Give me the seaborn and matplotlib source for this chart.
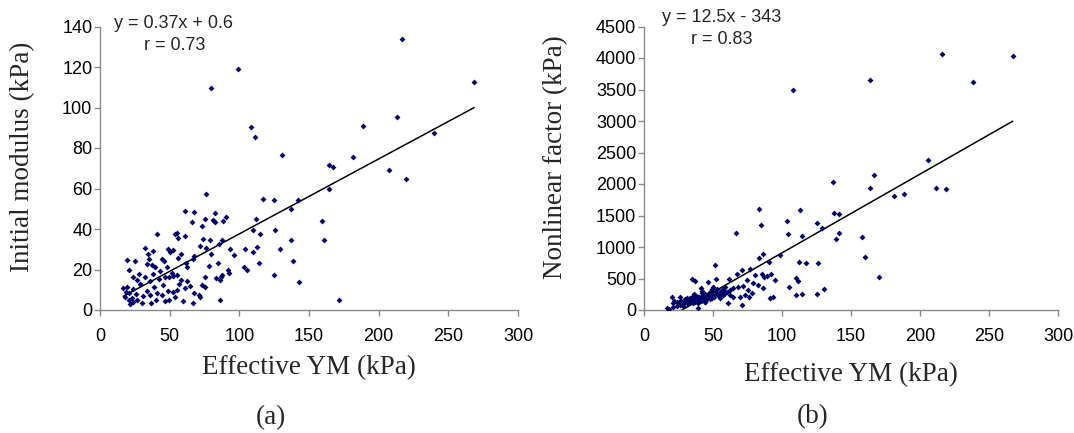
import matplotlib
matplotlib.use("Agg")
import matplotlib.pyplot as plt
import seaborn as sns

# ---------------- data ----------------
# Panel (a): Effective YM (kPa) vs Initial modulus (kPa)
ym_a = [217, 268.5, 108.4, 111.5, 213, 189, 130.4, 164.6, 167.5, 181.9, 207.2, 219.4, 240,
        164.6, 117.3, 125.2, 142.4, 137.1, 112, 109.6, 114.9, 125.9, 159.1, 161, 136.9, 104.3,
        112.9, 110.1, 129, 103.4, 105.8, 114.1, 138.8, 125.2, 142.6, 171.3,
        79.7, 99.3,
        75.9, 60.8, 67.3, 82.8, 90.5, 66, 75.2, 80.9, 82.3, 88.5, 73.2, 53.6, 55.5, 56, 60.8,
        73.7, 79, 87.4, 85.2, 71.8, 76.1, 93.3, 96.4, 52.6, 58.4, 56, 67.5, 66.5, 79.5, 61.7,
        62.2, 78.5, 84.9, 91.9, 92.4, 75.4, 83.1, 86.6, 87.4, 86.1, 73.2, 75.6, 51.5, 52.6, 55,
        58.4, 62.2, 56.9, 61.2, 64.6, 55, 52.2, 53.8, 67.5, 70.8, 71.8, 59.8, 66.5, 86.1,
        40.7, 32.5, 38.3, 34.5, 49, 50.3, 19.6, 25.3, 35.4, 44.5, 45.9, 33.5, 37.3, 39.7, 21,
        47.9, 27.8, 38.3, 43.1, 23.5, 32.1, 42.1, 46.4, 26.3, 35.9, 49.7, 28.7, 38.8, 45.4,
        16.7, 19.2, 23.9, 33.5, 48.8, 18.7, 21, 25.8, 35.9, 41.1, 44.5, 18.2, 23, 30.6, 20.6,
        23.9, 30.2, 36.4, 40.2, 46.9, 21.5, 26.3, 49.7]
init_mod = [133.6, 112.6, 90.2, 85.3, 95.1, 90.7, 76.7, 71.8, 70.5, 75.4, 69.2, 64.8, 87.4,
            59.8, 54.9, 54.4, 54.1, 49.7, 45.1, 39.4, 37.4, 39.4, 44.1, 34.8, 34.8, 30.3,
            31.1, 28.4, 30.3, 21.3, 19.8, 23.1, 24.1, 17.4, 13.9, 4.9,
            109.5, 118.9,
            57.1, 49, 48.2, 47.9, 45.9, 43.3, 44.9, 44.3, 43.3, 44.1, 41.7, 37.7, 38, 35.6, 36.7,
            35.1, 34.4, 34.8, 32.8, 31.8, 30.8, 30.2, 27.2, 29.5, 27.9, 25.7, 26.9, 25.2, 27.5,
            23.3, 21.3, 21.6, 23, 19.7, 18.3, 16.4, 15.7, 16.1, 17.2, 14.8, 12.3, 11.5, 18.3,
            16.7, 17.2, 14.8, 14.4, 12.8, 11, 12, 9.8, 9, 6.5, 8.2, 7.4, 6.5, 4.4, 3.6, 4.9,
            37.7, 30.8, 29.2, 27.5, 30.3, 28.7, 24.9, 24.3, 25.2, 25.2, 24.3, 22.6, 22, 21, 20,
            21.3, 18, 18, 19.3, 16.1, 16.1, 15.1, 16.4, 14.8, 14.4, 16.1, 12.8, 11.5, 12.1,
            10.7, 11.2, 10.2, 9.5, 9.5, 9, 8.5, 7.9, 7.4, 8.2, 7.2, 6.5, 5.9, 6.9, 4.9,
            4.1, 3.6, 3.3, 4.9, 4.6, 3, 4.9, 4.9]

# Panel (b): Effective YM (kPa) vs Nonlinear factor (kPa)
ym_b = [215.7, 267.2, 238.2, 163.8, 107.7, 206, 166.9, 163.8, 136.7, 211.6, 218.6, 181.2, 188.2,
        112.8, 103.9, 137.5, 141.5, 125.1, 129.2, 104.6, 114.5, 141.5, 138.9, 158, 159.9,
        170.5, 98.6, 112.1, 117.4, 125.9, 109.9, 111.8, 105.3, 130.2, 109.9, 114.7, 125.1,
        83.3, 84.5, 66.7, 86.5, 83.6, 90.8, 51.2, 76.8, 71.2, 67.2, 80.4, 85.3, 87, 88.9, 92,
        95.1, 61.8, 52.2, 74.9, 79.2, 82.8, 86.5, 71.5, 68.1, 64.7, 58.7, 75.6, 78, 73.2, 76.3,
        91.3, 93.7, 62.3, 64.7, 69.6, 61.1, 71.2, 50.2,
        35, 37, 46.6, 41.1, 20, 16.4, 18.3, 21.2, 23.7, 26.1, 30.9, 33.3, 37, 39.3, 41.8, 45.4,
        47.8, 39.3, 21.2, 28.5, 35.7, 44.2, 49.1, 32.1,
        25, 27, 29, 30, 31, 33, 34, 35, 36, 38, 39, 40, 42, 43, 44, 46, 47, 48, 50, 51, 52, 53,
        54, 55, 56, 57, 58, 59, 45, 41, 37, 32, 28, 24, 22, 26, 49, 53, 57, 60, 62, 42, 36, 48,
        55, 44, 39]
nonlin = [4068, 4036, 3624, 3651, 3492, 2376, 2143, 1942, 2032, 1942, 1915, 1810, 1841,
          1582, 1418, 1540, 1519, 1376, 1297, 1201, 1175, 1217, 1132, 1164, 841,
          524, 873, 767, 751, 751, 513, 466, 365, 333, 238, 259, 249,
          1598, 1354, 1227, 889, 820, 767, 714, 646, 635, 566, 555, 566, 519, 540, 571,
          476, 497, 487, 476, 424, 397, 344, 381, 360, 344, 370, 317, 265, 238, 211,
          185, 211, 238, 211, 211, 116, 79, 370,
          487, 466, 450, 344, 201, 37, 11, 106, 132, 79, 185, 159, 222, 201, 265, 238,
          291, 26, 53, 63, 106, 132, 185, 116,
          120, 150, 110, 170, 140, 190, 160, 210, 180, 230, 170, 200, 220, 190, 250, 210, 260,
          230, 240, 200, 280, 250, 220, 270, 300, 240, 260, 290, 160, 150, 130, 100, 90, 70,
          150, 200, 330, 330, 330, 280, 320, 300, 250, 180, 190, 120, 110]

# regression lines (from the equations printed on the chart)
slope_a, icpt_a, r_a = 0.37, 0.6, 0.73
slope_b, icpt_b, r_b = 12.5, -343, 0.83

x_ticks = [0, 50, 100, 150, 200, 250, 300]
y_ticks_a = [0, 20, 40, 60, 80, 100, 120, 140]
y_ticks_b = [0, 500, 1000, 1500, 2000, 2500, 3000, 3500, 4000, 4500]

# ---------------- style ----------------
sns.set_style("ticks")
plt.rcParams["font.family"] = ["Liberation Sans", "DejaVu Sans"]

NAVY = "#000066"
AXIS_GRAY = "#8a8a8a"
SERIF = ["Liberation Serif", "DejaVu Serif"]

W, H = 1074, 433
fig = plt.figure(figsize=(W / 100, H / 100), dpi=100)
ax1 = fig.add_axes([100 / W, 1 - 310 / H, 418 / W, 283.5 / H])
ax2 = fig.add_axes([644 / W, 1 - 310 / H, 414 / W, 283.5 / H])


def draw(ax, xs, ys, slope, icpt, ymax, yticks, ylabel, xlab_y, ylab_x):
    sns.scatterplot(x=xs, y=ys, ax=ax, marker="D", s=9, color=NAVY, linewidth=0, zorder=3)
    lx = [min(xs), max(xs)]
    ly = [slope * v + icpt for v in lx]
    sns.lineplot(x=lx, y=ly, ax=ax, color="black", linewidth=1.1, zorder=2)
    ax.set_xlim(0, 300)
    ax.set_ylim(0, ymax)
    ax.set_xticks(x_ticks)
    ax.set_yticks(yticks)
    sns.despine(ax=ax)
    for s in ("left", "bottom"):
        ax.spines[s].set_color(AXIS_GRAY)
        ax.spines[s].set_linewidth(1.0)
    ax.tick_params(axis="both", direction="out", length=4, width=1, color=AXIS_GRAY,
                   labelsize=13, labelcolor="black")
    ax.tick_params(axis="x", pad=9)
    ax.tick_params(axis="y", pad=1.5)
    ax.set_xlabel("Effective YM (kPa)", fontfamily=SERIF, fontsize=19.5, va="center")
    ax.xaxis.set_label_coords(0.5, xlab_y)
    ax.set_ylabel(ylabel, fontfamily=SERIF, fontsize=19.5, va="center", ha="center")
    ax.yaxis.set_label_coords(ylab_x, 0.54)


draw(ax1, ym_a, init_mod, slope_a, icpt_a, 140, y_ticks_a, "Initial modulus (kPa)",
     -(368 - 310) / 283.5, -77.4 / 418)
draw(ax2, ym_b, nonlin, slope_b, icpt_b, 4500, y_ticks_b, "Nonlinear factor (kPa)",
     -(375 - 310) / 283.5, -88 / 414)

# equation annotations
fig.text(174 / W, 1 - 23 / H, f"y = {slope_a}x + {icpt_a}", ha="center", va="center", fontsize=13)
fig.text(174.5 / W, 1 - 46 / H, f"r = {r_a}", ha="center", va="center", fontsize=13)
fig.text(722 / W, 1 - 17 / H, f"y = {slope_b}x - {abs(icpt_b)}", ha="center", va="center", fontsize=13)
fig.text(721.5 / W, 1 - 40 / H, f"r = {r_b}", ha="center", va="center", fontsize=13)

# panel captions
fig.text(271 / W, 1 - 418 / H, "(a)", ha="center", va="center", fontsize=19.5, fontfamily=SERIF)
fig.text(813 / W, 1 - 417 / H, "(b)", ha="center", va="center", fontsize=19.5, fontfamily=SERIF)

fig.savefig("out.png", dpi=100)
